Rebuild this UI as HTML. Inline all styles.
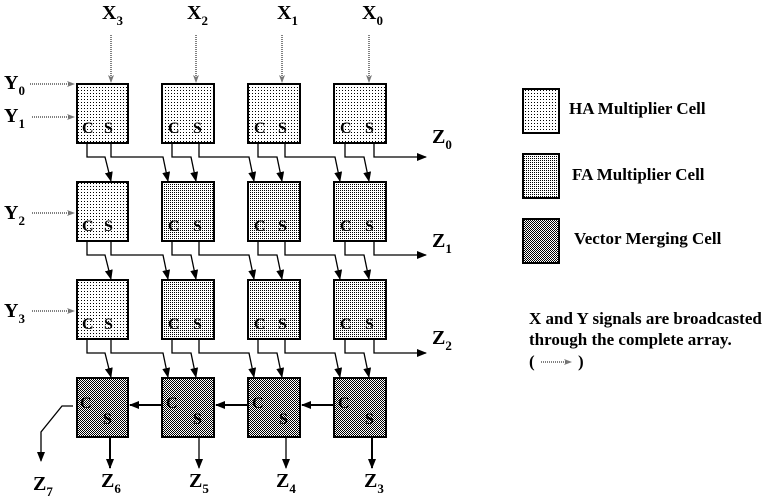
<!DOCTYPE html>
<html><head><meta charset="utf-8"><style>
html,body{margin:0;padding:0;background:#fff;}
svg{display:block;}
text{font-family:"Liberation Serif",serif;font-weight:bold;fill:#000;}
</style></head><body>
<svg width="776" height="500" viewBox="0 0 776 500" xmlns="http://www.w3.org/2000/svg">
<defs>
<pattern id="ha" width="3" height="3" patternUnits="userSpaceOnUse"><rect width="3" height="3" fill="#fff"/><rect width="1" height="1" fill="#000"/></pattern>
<pattern id="fa" width="2" height="2" patternUnits="userSpaceOnUse"><rect width="2" height="2" fill="#fff"/><rect width="1" height="1" fill="#000"/></pattern>
<pattern id="vm" width="2" height="2" patternUnits="userSpaceOnUse"><rect width="2" height="2" fill="#fff"/><rect width="1" height="1" fill="#000"/><rect x="1" y="1" width="1" height="1" fill="#000"/></pattern>
<marker id="a" markerWidth="10" markerHeight="8" refX="9" refY="4" orient="auto" markerUnits="userSpaceOnUse"><path d="M0,0 L10,4 L0,8 z" fill="#000"/></marker>
<marker id="d" markerWidth="8" markerHeight="6" refX="7" refY="3" orient="auto" markerUnits="userSpaceOnUse"><path d="M0,0 L8,3 L0,6 L2,3 z" fill="#777"/></marker>
</defs>

<g font-size="20">
<text x="102" y="19">X<tspan font-size="13" dy="6">3</tspan></text>
<text x="187" y="19">X<tspan font-size="13" dy="6">2</tspan></text>
<text x="277" y="19">X<tspan font-size="13" dy="6">1</tspan></text>
<text x="362" y="19">X<tspan font-size="13" dy="6">0</tspan></text>
<text x="4" y="89">Y<tspan font-size="13" dy="6">0</tspan></text>
<text x="4" y="122">Y<tspan font-size="13" dy="6">1</tspan></text>
<text x="4" y="219">Y<tspan font-size="13" dy="6">2</tspan></text>
<text x="4" y="317">Y<tspan font-size="13" dy="6">3</tspan></text>
<text x="432" y="143">Z<tspan font-size="13" dy="6">0</tspan></text>
<text x="432" y="247">Z<tspan font-size="13" dy="6">1</tspan></text>
<text x="432" y="344">Z<tspan font-size="13" dy="6">2</tspan></text>
<text x="33" y="490">Z<tspan font-size="13" dy="6">7</tspan></text>
<text x="101" y="487">Z<tspan font-size="13" dy="6">6</tspan></text>
<text x="189" y="487">Z<tspan font-size="13" dy="6">5</tspan></text>
<text x="276" y="487">Z<tspan font-size="13" dy="6">4</tspan></text>
<text x="364" y="487">Z<tspan font-size="13" dy="6">3</tspan></text>
</g>

<g stroke="#000" stroke-width="1" stroke-dasharray="1,1" marker-end="url(#d)">
<line x1="111" y1="35" x2="111" y2="82"/>
<line x1="196" y1="35" x2="196" y2="82"/>
<line x1="282" y1="35" x2="282" y2="82"/>
<line x1="369" y1="35" x2="369" y2="82"/>
<line x1="30" y1="84" x2="74" y2="84"/>
<line x1="32" y1="117" x2="74" y2="117"/>
<line x1="32" y1="213" x2="74" y2="213"/>
<line x1="32" y1="311" x2="74" y2="311"/>
</g>

<g stroke="#000" stroke-width="2">
<rect x="77" y="84" width="51" height="59" fill="url(#ha)"/>
<rect x="162" y="84" width="52" height="59" fill="url(#ha)"/>
<rect x="248" y="84" width="52" height="59" fill="url(#ha)"/>
<rect x="334" y="84" width="52" height="59" fill="url(#ha)"/>
<rect x="77" y="182" width="51" height="59" fill="url(#ha)"/>
<rect x="162" y="182" width="52" height="59" fill="url(#fa)"/>
<rect x="248" y="182" width="52" height="59" fill="url(#fa)"/>
<rect x="334" y="182" width="52" height="59" fill="url(#fa)"/>
<rect x="77" y="280" width="51" height="59" fill="url(#ha)"/>
<rect x="162" y="280" width="52" height="59" fill="url(#fa)"/>
<rect x="248" y="280" width="52" height="59" fill="url(#fa)"/>
<rect x="334" y="280" width="52" height="59" fill="url(#fa)"/>
<rect x="77" y="378" width="51" height="59" fill="url(#vm)"/>
<rect x="162" y="378" width="52" height="59" fill="url(#vm)"/>
<rect x="248" y="378" width="52" height="59" fill="url(#vm)"/>
<rect x="334" y="378" width="52" height="59" fill="url(#vm)"/>
<rect x="523" y="89" width="36" height="44" fill="url(#ha)"/>
<rect x="523" y="154" width="36" height="44" fill="url(#fa)"/>
<rect x="523" y="219" width="36" height="44" fill="url(#vm)"/>
</g>

<g font-size="16">
<text x="82" y="133">C</text><text x="104" y="133">S</text>
<text x="168" y="133">C</text><text x="193" y="133">S</text>
<text x="254" y="133">C</text><text x="278" y="133">S</text>
<text x="340" y="133">C</text><text x="365" y="133">S</text>
<text x="82" y="231">C</text><text x="104" y="231">S</text>
<text x="168" y="231">C</text><text x="193" y="231">S</text>
<text x="254" y="231">C</text><text x="278" y="231">S</text>
<text x="340" y="231">C</text><text x="365" y="231">S</text>
<text x="82" y="329">C</text><text x="104" y="329">S</text>
<text x="168" y="329">C</text><text x="193" y="329">S</text>
<text x="254" y="329">C</text><text x="278" y="329">S</text>
<text x="340" y="329">C</text><text x="365" y="329">S</text>
<text x="80" y="408">C</text><text x="103" y="424">S</text>
<text x="166" y="408">C</text><text x="193" y="424">S</text>
<text x="252" y="408">C</text><text x="279" y="424">S</text>
<text x="338" y="408">C</text><text x="365" y="424">S</text>
</g>

<g stroke="#000" stroke-width="1.3" fill="none" marker-end="url(#a)">
<path d="M87,143 V157 H105 L111,181"/>
<path d="M111,143 V157 H163 L168,181"/>
<path d="M172,143 V157 H191 L196,181"/>
<path d="M199,143 V157 H249 L254,181"/>
<path d="M258,143 V157 H277 L282,181"/>
<path d="M285,143 V157 H335 L340,181"/>
<path d="M345,143 V157 H364 L369,181"/>
<path d="M374,143 V157 H426"/>
<path d="M87,241 V255 H105 L111,279"/>
<path d="M111,241 V255 H163 L168,279"/>
<path d="M172,241 V255 H191 L196,279"/>
<path d="M199,241 V255 H249 L254,279"/>
<path d="M258,241 V255 H277 L282,279"/>
<path d="M285,241 V255 H335 L340,279"/>
<path d="M345,241 V255 H364 L369,279"/>
<path d="M374,241 V255 H426"/>
<path d="M87,339 V353 H105 L111,377"/>
<path d="M111,339 V353 H163 L168,377"/>
<path d="M172,339 V353 H191 L196,377"/>
<path d="M199,339 V353 H249 L254,377"/>
<path d="M258,339 V353 H277 L282,377"/>
<path d="M285,339 V353 H335 L340,377"/>
<path d="M345,339 V353 H364 L369,377"/>
<path d="M374,339 V353 H426"/>
<path d="M333,405 H302" stroke-width="2"/>
<path d="M247,405 H216" stroke-width="2"/>
<path d="M161,405 H130" stroke-width="2"/>
<path d="M110,438 V468" stroke-width="2"/>
<path d="M199,438 V468"/>
<path d="M286,438 V468"/>
<path d="M372,438 V468" stroke-width="2"/>
<path d="M73,406 H62 L41,432 V461"/>
</g>

<g font-size="17">
<text x="569" y="114">HA  Multiplier Cell</text>
<text x="572" y="180">FA  Multiplier Cell</text>
<text x="574" y="244">Vector Merging Cell</text>
<text x="529" y="324">X and Y signals are broadcasted</text>
<text x="529" y="345">through the complete array.</text>
<text x="529" y="367">(</text>
<text x="578" y="367">)</text>
</g>
<line x1="541" y1="362" x2="571" y2="362" stroke="#000" stroke-width="1" stroke-dasharray="1,1" marker-end="url(#d)"/>
</svg>
</body></html>
